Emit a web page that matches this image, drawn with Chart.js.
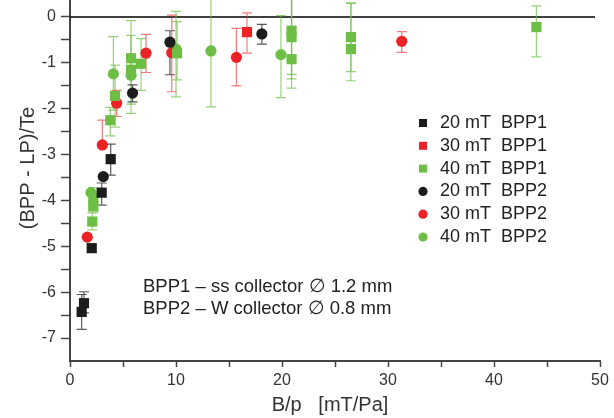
<!DOCTYPE html>
<html lang="en">
  <head>
    <meta charset="UTF-8" />
    <title>(BPP - LP)/Te vs B/p</title>
    <script src="https://cdn.jsdelivr.net/npm/chart.js"></script>
    <style>
      body {
        margin: 0;
        background: #fff;
      }
      #wrap {
        width: 614px;
        height: 418px;
      }
    </style>
  </head>
  <body>
    <div id="wrap"><canvas id="bppChart" width="614" height="418"></canvas></div>
    <script>
      // axis ticks
      const xMajorTicks = [0, 10, 20, 30, 40, 50]
      const xMinorTicks = [5, 15, 25, 35, 45]
      const yMajorTicks = [0, -1, -2, -3, -4, -5, -6, -7]
      const yMinorTicks = [-0.5, -1.5, -2.5, -3.5, -4.5, -5.5, -6.5]

      // 20 mT BPP1 (black squares)
      const bpp1_20_x = [1.1, 1.32, 2.05, 2.99, 3.84]
      const bpp1_20_y = [-6.43, -6.24, -5.04, -3.83, -3.1]
      const bpp1_20_lo = [-6.81, -6.45, null, -4.1, -3.45]
      const bpp1_20_hi = [-6.05, -5.99, null, -3.62, -2.77]

      // 30 mT BPP1 (red squares)
      const bpp1_30_x = [16.7]
      const bpp1_30_y = [-0.33]
      const bpp1_30_lo = [-0.79]
      const bpp1_30_hi = [0.09]

      // 40 mT BPP1 (green squares)
      const bpp1_40_x = [2.2, 2.2, 2.1, 3.8, 4.25, 5.76, 5.76, 6.7, 10.1, 20.9, 20.9, 20.9, 26.5, 26.5, 44.0]
      const bpp1_40_y = [-3.95, -4.12, -4.46, -2.25, -1.72, -0.9, -1.15, -1.02, -0.79, -0.3, -0.44, -0.92, -0.44, -0.7, -0.22]
      const bpp1_40_lo = [-4.22, -4.25, -4.64, -2.59, -2.4, -2.1, -1.9, -1.6, -1.37, -1.25, -1.35, -1.55, -1.19, -1.39, -0.87]
      const bpp1_40_hi = [-3.72, -3.8, -4.27, -1.97, -1.05, -0.08, -0.4, -0.47, -0.1, 0.5, 0.5, 0.5, 0.3, 0.3, 0.24]

      // 20 mT BPP2 (black circles)
      const bpp2_20_x = [3.14, 5.9, 9.43, 18.1]
      const bpp2_20_y = [-3.48, -1.66, -0.55, -0.37]
      const bpp2_20_lo = [null, -1.85, -1.26, -0.59]
      const bpp2_20_hi = [null, -1.48, -0.3, -0.16]

      // 30 mT BPP2 (red circles)
      const bpp2_30_x = [1.63, 3.05, 4.4, 7.17, 9.6, 15.7, 31.3]
      const bpp2_30_y = [-4.8, -2.79, -1.88, -0.79, -0.78, -0.88, -0.53]
      const bpp2_30_lo = [null, -2.85, -2.17, -1.21, -1.63, -1.5, -0.77]
      const bpp2_30_hi = [null, -2.25, -1.6, -0.38, 0.04, -0.25, -0.32]

      // 40 mT BPP2 (green circles)
      const bpp2_40_x = [1.98, 4.09, 5.76, 10.0, 13.3, 19.9]
      const bpp2_40_y = [-3.83, -1.24, -1.27, -0.7, -0.74, -0.82]
      const bpp2_40_lo = [null, -2.03, null, -1.74, -1.96, -1.76]
      const bpp2_40_hi = [null, -0.43, null, 0.12, 0.5, 0.03]

      const noteLines = ['BPP1 \u2013 ss collector \u2205 1.2 mm', 'BPP2 \u2013 W collector \u2205 0.8 mm']
      const xTitle = 'B/p   [mT/Pa]'
      const yTitle = '(BPP - LP)/Te'

      const FONT = "'Liberation Sans', Arial, sans-serif"
      const BLACK = '#1c1c1c'
      const RED = '#ec2227'
      const GREEN = '#6dbe45'

      function points(xs, ys, lo, hi) {
        return xs.map((x, i) => ({ x: x, y: ys[i], lo: lo[i], hi: hi[i] }))
      }

      function series(label, data, color, errColor, style) {
        return {
          label: label,
          data: data,
          pointStyle: style,
          pointRadius: style === 'rect' ? 7.2 : 5.6,
          backgroundColor: color,
          borderColor: color,
          borderWidth: 0,
          errColor: errColor
        }
      }

      // error bars + zero line, drawn under the markers
      const errorBars = {
        id: 'errorBars',
        beforeDatasetsDraw(chart) {
          const { ctx, chartArea, scales } = chart
          ctx.save()
          ctx.beginPath()
          ctx.rect(chartArea.left, chartArea.top, chartArea.width, chartArea.height)
          ctx.clip()

          const zy = scales.y.getPixelForValue(0)
          ctx.strokeStyle = '#000'
          ctx.lineWidth = 1.6
          ctx.beginPath()
          ctx.moveTo(chartArea.left, zy)
          ctx.lineTo(chartArea.right - 5, zy)
          ctx.stroke()

          chart.data.datasets.forEach(ds => {
            ctx.strokeStyle = ds.errColor
            ctx.lineWidth = 1.2
            ds.data.forEach(p => {
              if (p.lo == null) return
              const px = scales.x.getPixelForValue(p.x)
              const top = scales.y.getPixelForValue(p.hi)
              const bot = scales.y.getPixelForValue(p.lo)
              ctx.beginPath()
              ctx.moveTo(px, top)
              ctx.lineTo(px, bot)
              ctx.moveTo(px - 5, top)
              ctx.lineTo(px + 5, top)
              ctx.moveTo(px - 5, bot)
              ctx.lineTo(px + 5, bot)
              ctx.stroke()
            })
          })
          ctx.restore()
        }
      }

      // legend, note text and axis titles
      const insideText = {
        id: 'insideText',
        afterDraw(chart) {
          const ctx = chart.ctx
          ctx.save()
          ctx.font = '18px ' + FONT
          ctx.fillStyle = '#222'
          ctx.textBaseline = 'middle'
          ctx.textAlign = 'left'

          chart.data.datasets.forEach((ds, i) => {
            const y = 123 + i * 22.8
            ctx.fillStyle = ds.backgroundColor
            ctx.beginPath()
            if (ds.pointStyle === 'rect') {
              ctx.rect(423 - 4, y - 4, 8, 8)
            } else {
              ctx.arc(423, y, 4.6, 0, Math.PI * 2)
            }
            ctx.fill()
            ctx.fillStyle = '#222'
            ctx.fillText(ds.label, 440, y)
          })

          ctx.font = '18.5px ' + FONT
          noteLines.forEach((line, i) => {
            ctx.fillText(line, 143, 287 + i * 22)
          })

          // axis titles
          ctx.font = '20px ' + FONT
          ctx.fillStyle = '#333'
          ctx.textAlign = 'center'
          ctx.fillText(xTitle, 330, 405)
          ctx.translate(28, 168)
          ctx.rotate(-Math.PI / 2)
          ctx.fillText(yTitle, 0, 0)
          ctx.restore()
        }
      }

      const ctx = document.getElementById('bppChart').getContext('2d')
      new Chart(ctx, {
        type: 'scatter',
        data: {
          datasets: [
            series('20 mT  BPP1', points(bpp1_20_x, bpp1_20_y, bpp1_20_lo, bpp1_20_hi), BLACK, 'rgba(60,60,60,0.85)', 'rect'),
            series('30 mT  BPP1', points(bpp1_30_x, bpp1_30_y, bpp1_30_lo, bpp1_30_hi), RED, 'rgba(236,34,39,0.6)', 'rect'),
            series('40 mT  BPP1', points(bpp1_40_x, bpp1_40_y, bpp1_40_lo, bpp1_40_hi), GREEN, 'rgba(109,190,69,0.7)', 'rect'),
            series('20 mT  BPP2', points(bpp2_20_x, bpp2_20_y, bpp2_20_lo, bpp2_20_hi), BLACK, 'rgba(60,60,60,0.85)', 'circle'),
            series('30 mT  BPP2', points(bpp2_30_x, bpp2_30_y, bpp2_30_lo, bpp2_30_hi), RED, 'rgba(236,34,39,0.6)', 'circle'),
            series('40 mT  BPP2', points(bpp2_40_x, bpp2_40_y, bpp2_40_lo, bpp2_40_hi), GREEN, 'rgba(109,190,69,0.7)', 'circle')
          ]
        },
        options: {
          responsive: false,
          animation: false,
          events: [],
          layout: { autoPadding: false, padding: { left: 0, right: 14, top: 0, bottom: 0 } },
          plugins: {
            legend: { display: false },
            tooltip: { enabled: false }
          },
          scales: {
            x: {
              type: 'linear',
              min: 0,
              max: 50,
              afterBuildTicks: s => {
                s.ticks = xMajorTicks.concat(xMinorTicks).sort((a, b) => a - b).map(v => ({ value: v }))
              },
              afterFit: s => {
                s.height = 57
                s.paddingLeft = 0
                s.paddingRight = 0
              },
              ticks: {
                autoSkip: false,
                maxRotation: 0,
                padding: 4,
                color: '#333',
                font: { size: 16, family: FONT },
                callback: v => (xMajorTicks.includes(v) ? String(v) : '')
              },
              grid: { drawOnChartArea: false, tickLength: 6, tickColor: '#444', tickWidth: 1.5 },
              border: { color: '#444', width: 2 }
            },
            y: {
              type: 'linear',
              min: -7.5,
              max: 0.37,
              afterBuildTicks: s => {
                s.ticks = yMajorTicks.concat(yMinorTicks).sort((a, b) => a - b).map(v => ({ value: v }))
              },
              afterFit: s => {
                s.width = 70
                s.paddingTop = 0
                s.paddingBottom = 0
              },
              ticks: {
                autoSkip: false,
                padding: 5,
                color: '#333',
                font: { size: 16, family: FONT },
                callback: v => (yMajorTicks.includes(v) ? String(v) : '')
              },
              grid: { drawOnChartArea: false, tickLength: 9, tickColor: '#444', tickWidth: 1.5 },
              border: { color: '#444', width: 2 }
            }
          }
        },
        plugins: [errorBars, insideText]
      })
    </script>
  </body>
</html>
